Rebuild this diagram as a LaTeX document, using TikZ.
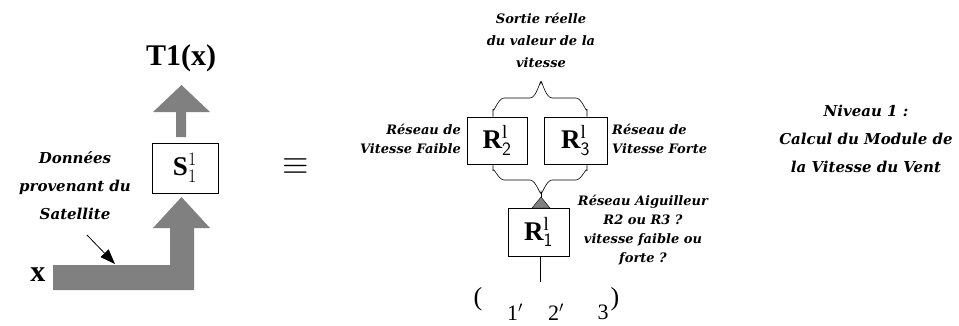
\RequirePackage{fix-cm}
\documentclass[tikz,border=0pt]{standalone}
\usepackage{fontspec}
\setmainfont{Liberation Serif}
\newfontfamily\labfont{DejaVu Serif}
\usetikzlibrary{arrows.meta,calc}
\definecolor{arrowgray}{HTML}{808080}
\begin{document}
\begin{tikzpicture}[x=1pt,y=-1pt,
  box/.style={draw=black, line width=0.8pt, fill=white, inner sep=0pt,
              font=\fontsize{27}{27}\selectfont},
  lab/.style={font=\labfont\bfseries\itshape\fontsize{13}{19}\selectfont, inner sep=0pt},
  bigtext/.style={font=\fontsize{30}{30}\selectfont\bfseries, inner sep=0pt},
  wire/.style={draw=black, line width=0.6pt}]
\useasboundingbox (0,0) rectangle (959,325);

% ---------- left part ----------
\node[bigtext] (T) at (181,58) {T1(x)};
\node[box, minimum width=66pt, minimum height=50pt] (S) at (185,168) {$\mathbf{S}^{1}_{1}$};
\fill[arrowgray] (176,137) -- (176,112) -- (153,112) -- (181.5,85) -- (210,112)
  -- (186,112) -- (186,137) -- cycle;
\fill[arrowgray] (53,265) -- (170,265) -- (170,228) -- (153,228) -- (181.5,197)
  -- (210,228) -- (194,228) -- (194,290) -- (53,290) -- cycle;
\node[bigtext] (x) at (38,275) {x};
\node[lab, font=\labfont\bfseries\itshape\fontsize{15}{28}\selectfont, align=center] (don) at (75,186)
  {Données\\provenant du\\Satellite};
\coordinate (ns) at (87,235);
\coordinate (nt) at (115,264);
\draw[line width=0.8pt, -{Triangle[length=15pt,width=11pt]}] (ns) -- (nt);

% ---------- equivalence ----------
\node[inner sep=0pt, font=\fontsize{34}{34}\selectfont] (eq) at (296,167) {$\equiv$};

% ---------- middle part ----------
\node[lab, align=center, font=\labfont\bfseries\itshape\fontsize{13}{22}\selectfont] (sortie) at (541,40)
  {Sortie réelle\\du valeur de la\\vitesse};
\node[box, minimum width=60pt, minimum height=47pt] (R2) at (497,140.5) {$\mathbf{R}^{\mathrm{l}}_{\mathsf{2}}$};
\node[box, minimum width=63pt, minimum height=47pt] (R3) at (575.5,140.5) {$\mathbf{R}^{\mathrm{l}}_{\mathsf{3}}$};
\node[box, minimum width=61pt, minimum height=48pt] (R1) at (538.5,232) {$\mathbf{R}^{\mathrm{l}}_{\mathsf{1}}$};

\coordinate (cl) at (493,0);
\coordinate (cr) at (587,0);
\coordinate (ctop) at (541,83);
\coordinate (cbot) at (541,192);

% upper brace
\draw[wire] (cl |- R2.north) -- (493,109) to[out=-90,in=180] (504,98) -- (530,98)
  to[out=0,in=90] (ctop) to[out=90,in=180] (552,98) -- (576,98)
  to[out=0,in=-90] (587,109) -- (cr |- R3.north);
% lower brace
\draw[wire] (cl |- R2.south) -- (493,171) to[out=90,in=180] (504,180) -- (530,180)
  to[out=0,in=-90] (cbot) to[out=-90,in=180] (552,180) -- (576,180)
  to[out=0,in=90] (587,171) -- (cr |- R3.south);
\draw[wire] (cbot) -- (541,198);
\fill[arrowgray, draw=black, line width=0.4pt] (532,208) -- (541,197) -- (550,208) -- cycle;

\coordinate (bend) at (540,282);
\draw[wire] (R1.south -| bend) -- (bend);

\node[lab, align=right, anchor=east] (faible) at (461,139) {Réseau de\\Vitesse Faible};
\node[lab, align=left, anchor=west] (forte) at (612,139) {Réseau de\\Vitesse Forte};
\node[lab, align=center] (aig) at (643,230)
  {Réseau Aiguilleur\\R2 ou R3 ?\\vitesse faible ou\\forte ?};

\node[inner sep=0pt, font=\fontsize{26}{26}\selectfont] (lp) at (478,299) {(};
\node[inner sep=0pt, font=\fontsize{22}{22}\selectfont] (s1) at (515,312) {1$'$};
\node[inner sep=0pt, font=\fontsize{22}{22}\selectfont] (s2) at (556,312) {2$'$};
\node[inner sep=0pt, font=\fontsize{22}{22}\selectfont] (s3) at (603,312) {3};
\node[inner sep=0pt, font=\fontsize{26}{26}\selectfont] (rp) at (615,299) {)};

% ---------- right part ----------
\node[lab, align=center, font=\labfont\bfseries\itshape\fontsize{15}{28}\selectfont] (niv) at (866,139)
  {Niveau 1 :\\Calcul du Module de\\la Vitesse du Vent};
\end{tikzpicture}
\end{document}
